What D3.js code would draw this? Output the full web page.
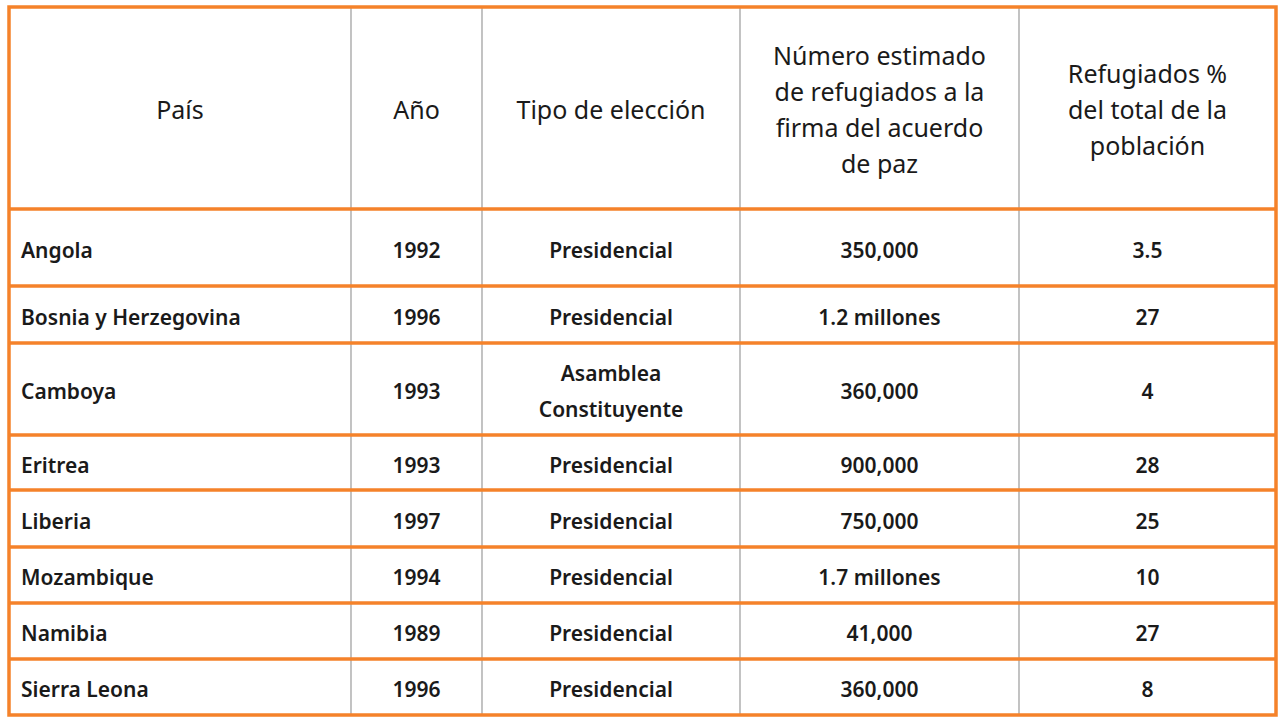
<!DOCTYPE html>
<html><head><meta charset="utf-8">
<script src="https://cdn.jsdelivr.net/npm/d3@7"></script>
<style>body{margin:0;background:#fff}</style>
</head><body>
<div id="table"></div>
<script>
var headers = [['País'], ['Año'], ['Tipo de elección'],
  ['Número estimado', 'de refugiados a la', 'firma del acuerdo', 'de paz'],
  ['Refugiados %', 'del total de la', 'población']];
var paises = ['Angola', 'Bosnia y Herzegovina', 'Camboya', 'Eritrea', 'Liberia', 'Mozambique', 'Namibia', 'Sierra Leona'];
var anios = ['1992', '1996', '1993', '1993', '1997', '1994', '1989', '1996'];
var tipos = [['Presidencial'], ['Presidencial'], ['Asamblea', 'Constituyente'], ['Presidencial'], ['Presidencial'], ['Presidencial'], ['Presidencial'], ['Presidencial']];
var refugiados = ['350,000', '1.2 millones', '360,000', '900,000', '750,000', '1.7 millones', '41,000', '360,000'];
var porcentaje = ['3.5', '27', '4', '28', '25', '10', '27', '8'];

var W = 1283, H = 728;
var colEdges = [9, 351, 482, 740, 1019, 1276];
var rowEdges = [209, 286, 343, 435, 490, 547, 603, 659, 715];
var orange = '#f5822a';

var svg = d3.select('#table').append('svg').attr('width', W).attr('height', H);
var colX = d3.scaleOrdinal().domain(d3.range(5)).range(colEdges.slice(0, 5));
var colW = function(i) { return colEdges[i + 1] - colEdges[i]; };
var rowY = d3.scaleOrdinal().domain(paises).range(rowEdges.slice(0, 8));
var rowH = function(i) { return rowEdges[i + 1] - rowEdges[i]; };

// gray column separators
svg.selectAll('line.col').data(colEdges.slice(1, 5)).enter().append('line')
  .attr('x1', function(d) { return d; }).attr('x2', function(d) { return d; })
  .attr('y1', 7).attr('y2', 715).attr('stroke', '#9a9a9a').attr('stroke-width', 1.2);

// orange row lines
svg.selectAll('line.row').data(rowEdges.slice(0, 8)).enter().append('line')
  .attr('x1', 9).attr('x2', 1276)
  .attr('y1', function(d) { return d; }).attr('y2', function(d) { return d; })
  .attr('stroke', orange).attr('stroke-width', 3.5);
svg.append('rect').attr('x', 9).attr('y', 7).attr('width', 1267).attr('height', 708)
  .attr('fill', 'none').attr('stroke', orange).attr('stroke-width', 3.5);

// header
var hdr = svg.selectAll('text.h').data(headers).enter().append('text')
  .attr('text-anchor', 'middle').attr('font-family', 'Noto Sans, sans-serif')
  .attr('font-size', 25).attr('fill', '#1a1a1a')
  .attr('x', function(d, i) { return colX(i) + colW(i) / 2; });
hdr.each(function(lines) {
  var t = d3.select(this), lh = 36, y0 = 110 - (lines.length - 1) * lh / 2;
  lines.forEach(function(l, k) {
    t.append('tspan').attr('x', t.attr('x')).attr('y', y0 + k * lh).attr('dy', '0.35em').text(l);
  });
});

// body
var rows = svg.selectAll('g.r').data(paises).enter().append('g')
  .attr('transform', function(d) { return 'translate(0,' + rowY(d) + ')'; });
function cell(g, i, col, lines, anchor) {
  var t = g.append('text').attr('font-family', 'Noto Sans, sans-serif').attr('font-size', 21)
    .attr('font-weight', 600).attr('fill', '#1a1a1a').attr('text-anchor', anchor);
  var x = anchor === 'start' ? 21 : colX(col) + colW(col) / 2;
  var cy = rowH(i) / 2 + 3, lh = 36;
  lines.forEach(function(l, k) {
    t.append('tspan').attr('x', x).attr('y', cy + (k - (lines.length - 1) / 2) * lh).attr('dy', '0.35em').text(l);
  });
}
rows.each(function(p, i) {
  var g = d3.select(this);
  cell(g, i, 0, [p], 'start');
  cell(g, i, 1, [anios[i]], 'middle');
  cell(g, i, 2, tipos[i], 'middle');
  cell(g, i, 3, [refugiados[i]], 'middle');
  cell(g, i, 4, [porcentaje[i]], 'middle');
});
</script>
</body></html>
